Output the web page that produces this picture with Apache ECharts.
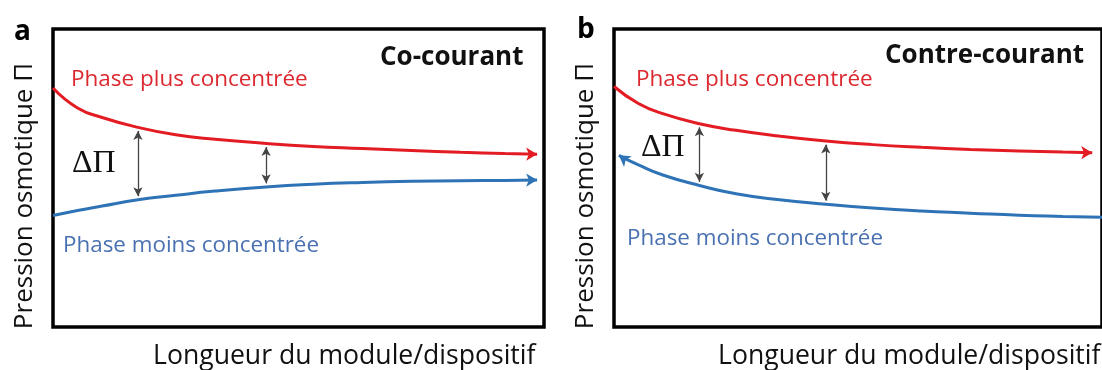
<!DOCTYPE html>
<html>
<head>
<meta charset="utf-8">
<script src="https://cdn.jsdelivr.net/npm/echarts@6/dist/echarts.min.js"></script>
<style>
  html, body { margin: 0; padding: 0; background: #fff; }
  #chart { width: 1102px; height: 370px; }
</style>
</head>
<body>
<div id="chart"></div>
<script>
// Osmotic pressure profiles along the module length (arbitrary units, 0–100)
// Panel a: co-current flow
const xCo      = [0, 5, 10, 17.3, 25, 33, 43.4, 53, 63, 73, 83, 92, 98.6];
const yRedCo   = [80.2, 73.5, 70.3, 67.0, 64.5, 63.0, 61.6, 60.6, 59.9, 59.2, 58.6, 58.2, 58.0];
const yBlueCo  = [37.4, 39.1, 40.6, 42.7, 44.2, 45.6, 47.0, 47.9, 48.5, 48.9, 49.1, 49.2, 49.3];
const deltaXCo = [17.3, 43.4];

// Panel b: counter-current flow
const xRedCtr   = [0, 5, 10, 17.5, 25, 33, 43.4, 53, 63, 73, 83, 92, 98];
const yRedCtr   = [80.7, 75.0, 71.6, 68.2, 66.0, 64.2, 62.4, 61.2, 60.3, 59.6, 59.1, 58.7, 58.5];
const xBlueCtr  = [1.0, 5, 10, 17.5, 25, 33, 43.4, 53, 63, 73, 83, 92, 100];
const yBlueCtr  = [57.6, 54.4, 51.0, 47.5, 44.7, 42.9, 41.2, 39.9, 38.9, 38.2, 37.5, 37.1, 36.8];
const deltaXCtr = [17.5, 43.4];

const panelTitles = ['Co-courant', 'Contre-courant'];
const panelLetters = ['a', 'b'];
const phaseLabels = ['Phase plus concentrée', 'Phase moins concentrée'];
const xTitle = 'Longueur du module/dispositif';
const yTitle = 'Pression osmotique Π';
const deltaLabel = 'ΔΠ';

const RED = '#e31b23', BLUE = '#2f73b7';
const RED_TXT = '#dc282f', BLUE_TXT = '#4a71b1';
const FONT = '"Open Sans", "Noto Sans", sans-serif';
const SERIF = '"Liberation Serif", "DejaVu Serif", serif';

// Build a curve; an arrowhead is attached to the point given by arrowIdx
function curve(xs, ys, arrowIdx, rotate) {
  return xs.map((x, i) => i === arrowIdx
    ? { value: [x, ys[i]], symbol: 'arrow', symbolSize: [10, 11], symbolRotate: rotate }
    : { value: [x, ys[i]] });
}

// Vertical double arrows between the two curves
function deltaArrows(xs, xr, yr, xb, yb) {
  return xs.map(x => [
    { coord: [x, yr[xr.indexOf(x)] - 1.2] },
    { coord: [x, yb[xb.indexOf(x)] + 1.2] }
  ]);
}

function lineSeries(idx, xs, ys, color, arrowIdx, rotate, extra) {
  return Object.assign({
    type: 'line',
    xAxisIndex: idx, yAxisIndex: idx,
    data: curve(xs, ys, arrowIdx, rotate),
    smooth: 0.5,
    symbol: 'circle', symbolSize: 0, showSymbol: true, showAllSymbol: true,
    clip: false, silent: true,
    lineStyle: { color, width: 3 },
    itemStyle: { color }
  }, extra || {});
}

function markArrows(data) {
  return {
    silent: true,
    symbol: ['arrow', 'arrow'],
    symbolSize: [7, 9],
    lineStyle: { color: '#444', width: 1.3, type: 'solid' },
    label: { show: false },
    emphasis: { disabled: true },
    data
  };
}

const grids = [
  { left: 53, top: 29, width: 491, height: 298 },
  { left: 614, top: 29, width: 491, height: 298 }
];

const axisBase = {
  type: 'value', min: 0, max: 100,
  axisLine: { show: false }, axisTick: { show: false },
  axisLabel: { show: false }, splitLine: { show: false }
};

function txt(text, x, y, size, color, weight, family) {
  return {
    type: 'text', silent: true,
    style: {
      text, x, y, fill: color,
      font: (weight || 'normal') + ' ' + size + 'px ' + (family || FONT),
      textAlign: 'left', textVerticalAlign: 'middle'
    }
  };
}

function rotTxt(text, cx, cy, size) {
  return {
    type: 'text', silent: true, x: cx, y: cy, rotation: Math.PI / 2,
    style: {
      text, x: 0, y: 0, fill: '#111', font: size + 'px ' + FONT,
      textAlign: 'center', textVerticalAlign: 'middle'
    }
  };
}

const option = {
  animation: false,
  backgroundColor: '#fff',
  grid: grids.map(g => Object.assign({ show: true, borderColor: '#000', borderWidth: 3.5, backgroundColor: 'transparent' }, g)),
  xAxis: [Object.assign({ gridIndex: 0 }, axisBase), Object.assign({ gridIndex: 1 }, axisBase)],
  yAxis: [Object.assign({ gridIndex: 0 }, axisBase), Object.assign({ gridIndex: 1 }, axisBase)],
  series: [
    lineSeries(0, xCo, yRedCo, RED, xCo.length - 1, -90, {
      markLine: markArrows(deltaArrows(deltaXCo, xCo, yRedCo, xCo, yBlueCo))
    }),
    lineSeries(0, xCo, yBlueCo, BLUE, xCo.length - 1, -90),
    lineSeries(1, xRedCtr, yRedCtr, RED, xRedCtr.length - 1, -90, {
      markLine: markArrows(deltaArrows(deltaXCtr, xRedCtr, yRedCtr, xBlueCtr, yBlueCtr))
    }),
    lineSeries(1, xBlueCtr, yBlueCtr, BLUE, 0, 55)
  ],
  graphic: [
    txt(panelLetters[0], 14, 32, 28, '#000', 'bold'),
    txt(panelLetters[1], 577, 30, 28, '#000', 'bold'),
    txt(panelTitles[0], 380, 58, 26, '#111', 'bold'),
    txt(panelTitles[1], 885, 56, 26, '#111', 'bold'),
    txt(phaseLabels[0], 71, 80, 22.5, RED_TXT),
    txt(phaseLabels[1], 63, 246, 22.4, BLUE_TXT),
    txt(phaseLabels[0], 636, 80, 22.5, RED_TXT),
    txt(phaseLabels[1], 627, 239, 22.4, BLUE_TXT),
    txt(deltaLabel, 72, 164, 32, '#111', 'normal', SERIF),
    txt(deltaLabel, 641, 148, 32, '#111', 'normal', SERIF),
    txt(xTitle, 153, 356, 26.6, '#111'),
    txt(xTitle, 718, 356, 26.6, '#111'),
    rotTxt(yTitle, 25, 196, 26),
    rotTxt(yTitle, 586, 196, 26)
  ]
};

const chart = echarts.init(document.getElementById('chart'), null, { renderer: 'canvas' });
chart.setOption(option);
</script>
</body>
</html>
